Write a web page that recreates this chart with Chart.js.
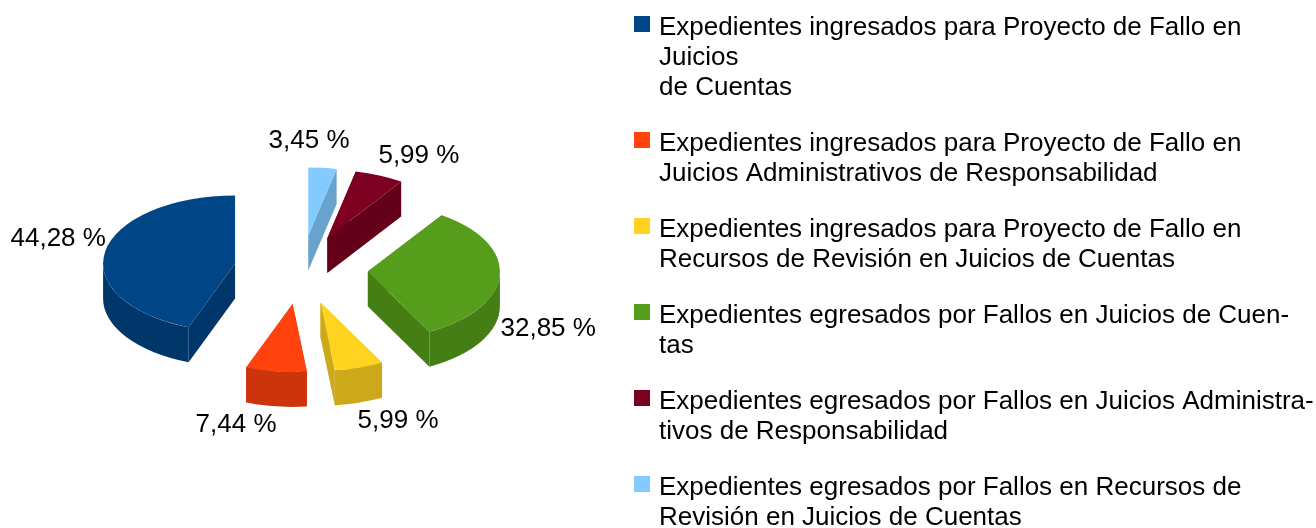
<!DOCTYPE html>
<html>
<head>
<meta charset="utf-8">
<title>Expedientes</title>
<style>
html,body{margin:0;padding:0;background:#fff;width:1316px;height:528px;overflow:hidden}
canvas{display:block}
</style>
<script src="https://cdn.jsdelivr.net/npm/chart.js@4/dist/chart.umd.min.js"></script>
</head>
<body>
<canvas id="c" width="1316" height="560" style="width:1316px;height:560px"></canvas>
<script>
const categories = [
  ["Expedientes ingresados para Proyecto de Fallo en", "Juicios", "de Cuentas"],
  ["Expedientes ingresados para Proyecto de Fallo en", "Juicios Administrativos de Responsabilidad"],
  ["Expedientes ingresados para Proyecto de Fallo en", "Recursos de Revisión en Juicios de Cuentas"],
  ["Expedientes egresados por Fallos en Juicios de Cuen-", "tas"],
  ["Expedientes egresados por Fallos en Juicios Administra-", "tivos de Responsabilidad"],
  ["Expedientes egresados por Fallos en Recursos de", "Revisión en Juicios de Cuentas"]
];
const percentages = [44.28, 7.44, 5.99, 32.85, 5.99, 3.45];
const sliceColors = ["#004586", "#ff420e", "#ffd320", "#579d1c", "#7e0021", "#83caff"];

// Label placement relative to each slice's outer rim, same order as the categories
const labelShifts = [[-47,-13],[-40,53],[39,53],[48.5,54],[39.5,-20],[-13.5,-27]];

const FONT = {family: '"Liberation Sans", Arial, sans-serif', size: 26, lineHeight: 30 / 26};
const PIE = {cx: 301, cy: 269.7, squash: 0.515, depth: 35, explode: 67, radius: 132};

function shade(hex, f) {
  const n = parseInt(hex.slice(1), 16);
  const c = s => Math.round(((n >> s) & 255) * f);
  return `rgb(${c(16)},${c(8)},${c(0)})`;
}

// Legend swatch: 16px square sitting up and to the right of the point-style anchor
function swatch(color) {
  const cv = document.createElement('canvas');
  cv.width = 24;
  cv.height = 24;
  const g = cv.getContext('2d');
  g.fillStyle = color;
  g.fillRect(8, 0, 16, 16);
  return cv;
}

const pie3d = {
  id: 'pie3d',
  afterLayout(chart) {
    const lg = chart.legend;
    lg.left = 630 - 26;
    lg.right = 1400;
    lg.top = -11;
    lg.bottom = 1000;
  },
  beforeDatasetsDraw(chart) {
    const ctx = chart.ctx;
    const meta = chart.getDatasetMeta(0);
    const {cx, cy, squash: k, depth, explode} = PIE;
    const items = meta.data.map((arc, i) => {
      const p = arc.getProps(['startAngle', 'endAngle', 'outerRadius', 'x', 'y'], true);
      const mid = (p.startAngle + p.endAngle) / 2;
      return {
        arc, p, mid,
        ox: cx + Math.cos(mid) * explode,
        oy: cy + k * Math.sin(mid) * explode,
        color: arc.options.backgroundColor,
        idx: meta.data.length - 1 - i
      };
    }).sort((a, b) => Math.sin(a.mid) - Math.sin(b.mid));

    items.forEach(s => {
      const R = s.p.outerRadius, a = s.p.startAngle, b = s.p.endAngle;
      const pt = t => [s.ox + R * Math.cos(t), s.oy + k * R * Math.sin(t)];
      ctx.fillStyle = shade(s.color, 0.8);
      // radial walls
      [a, b].forEach(t => {
        const q = pt(t);
        ctx.beginPath();
        ctx.moveTo(s.ox, s.oy);
        ctx.lineTo(q[0], q[1]);
        ctx.lineTo(q[0], q[1] + depth);
        ctx.lineTo(s.ox, s.oy + depth);
        ctx.closePath();
        ctx.fill();
      });
      // outer rim wall (front half only)
      [[0, Math.PI], [2 * Math.PI, 3 * Math.PI]].forEach(([lo, hi]) => {
        const u = Math.max(a, lo), v = Math.min(b, hi);
        if (v <= u) return;
        ctx.beginPath();
        ctx.ellipse(s.ox, s.oy, R, k * R, 0, u, v, false);
        ctx.ellipse(s.ox, s.oy + depth, R, k * R, 0, v, u, true);
        ctx.closePath();
        ctx.fill();
      });
      // top face: the library's own arc element
      ctx.save();
      ctx.translate(s.ox, s.oy);
      ctx.scale(1, k);
      ctx.translate(-s.p.x, -s.p.y);
      s.arc.draw(ctx);
      ctx.restore();
    });

    // percentage labels
    ctx.save();
    ctx.fillStyle = '#000';
    ctx.font = `${FONT.size}px ${FONT.family}`;
    ctx.textAlign = 'center';
    ctx.textBaseline = 'middle';
    items.forEach(s => {
      const R = s.p.outerRadius;
      const sh = labelShifts[s.idx];
      const text = percentages[s.idx].toFixed(2).replace('.', ',') + ' %';
      ctx.fillText(text, s.ox + R * Math.cos(s.mid) + sh[0], s.oy + k * R * Math.sin(s.mid) + sh[1]);
    });
    ctx.restore();
    return false;
  }
};

new Chart(document.getElementById('c'), {
  type: 'pie',
  data: {
    labels: categories.slice().reverse(),
    datasets: [{
      data: percentages.slice().reverse(),
      backgroundColor: sliceColors.slice().reverse(),
      borderWidth: 0,
      radius: PIE.radius
    }]
  },
  options: {
    responsive: false,
    animation: false,
    layout: {padding: 0},
    plugins: {
      tooltip: {enabled: false},
      legend: {
        position: 'right',
        align: 'start',
        reverse: true,
        labels: {
          usePointStyle: true,
          pointStyleWidth: 16,
          padding: 26,
          color: '#000',
          font: FONT,
          generateLabels(chart) {
            return Chart.controllers.pie.overrides.plugins.legend.labels.generateLabels(chart)
              .map(it => ({...it, pointStyle: swatch(it.fillStyle), lineWidth: 0}));
          }
        }
      }
    }
  },
  plugins: [pie3d]
});
</script>
</body>
</html>
